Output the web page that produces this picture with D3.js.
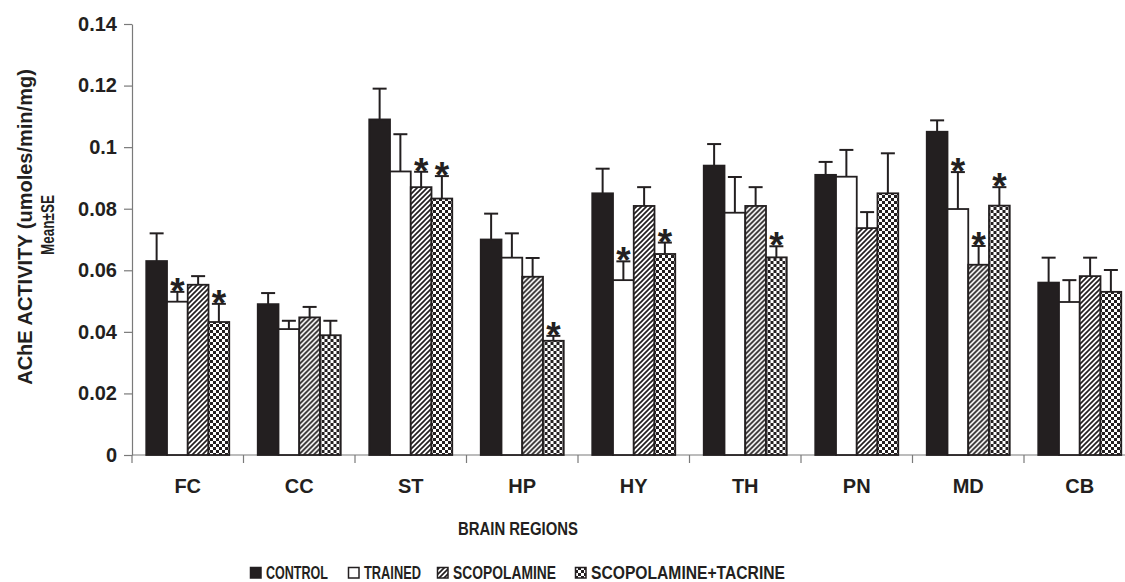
<!DOCTYPE html>
<html>
<head>
<meta charset="utf-8">
<script src="https://cdn.jsdelivr.net/npm/d3@7"></script>
<style>
  html, body { margin: 0; padding: 0; background: #fff; }
  svg { display: block; }
  text { font-family: "Liberation Sans", Arial, Helvetica, sans-serif; font-weight: bold; fill: #231f20; }
</style>
</head>
<body>
<svg id="chart" width="1125" height="582"></svg>
<script>
// ---------------- DATA ----------------
const categories = ["FC", "CC", "ST", "HP", "HY", "TH", "PN", "MD", "CB"];
const seriesNames = ["CONTROL", "TRAINED", "SCOPOLAMINE", "SCOPOLAMINE+TACRINE"];

const control    = [0.063, 0.049, 0.109, 0.070, 0.085, 0.094, 0.091, 0.105, 0.056];
const controlSE  = [0.009, 0.0036, 0.010, 0.0084, 0.008, 0.007, 0.0042, 0.0037, 0.0081];
const trained    = [0.0498, 0.0409, 0.0921, 0.0641, 0.0568, 0.0787, 0.0904, 0.0799, 0.0497];
const trainedSE  = [0.0032, 0.0027, 0.0121, 0.0079, 0.0061, 0.0116, 0.0087, 0.012, 0.0071];
const scop       = [0.0553, 0.0447, 0.087, 0.0579, 0.0809, 0.0809, 0.0737, 0.0618, 0.0581];
const scopSE     = [0.0028, 0.0034, 0.005, 0.0061, 0.0061, 0.0061, 0.0052, 0.0061, 0.006];
const tacrine    = [0.0432, 0.0389, 0.0833, 0.0371, 0.0653, 0.0642, 0.085, 0.081, 0.053];
const tacrineSE  = [0.0059, 0.0047, 0.0073, 0.0016, 0.0037, 0.0036, 0.013, 0.006, 0.0071];

// significance markers (*)
const controlSig = [0, 0, 0, 0, 0, 0, 0, 0, 0];
const trainedSig = [1, 0, 0, 0, 1, 0, 0, 1, 0];
const scopSig    = [0, 0, 1, 0, 0, 0, 0, 1, 0];
const tacrineSig = [1, 0, 1, 1, 1, 1, 0, 1, 0];

const yTickValues = [0, 0.02, 0.04, 0.06, 0.08, 0.10, 0.12, 0.14];
const yTickLabels = ["0", "0.02", "0.04", "0.06", "0.08", "0.1", "0.12", "0.14"];

const yTitle1 = "AChE ACTIVITY (umoles/min/mg)";
const yTitle2 = "Mean\u00B1SE";
const xTitle = "BRAIN REGIONS";

// ---------------- BUILD ----------------
const seriesVals = [control, trained, scop, tacrine];
const seriesSE = [controlSE, trainedSE, scopSE, tacrineSE];
const seriesSig = [controlSig, trainedSig, scopSig, tacrineSig];
const fills = ["#231f20", "#ffffff", "url(#hatch)", "url(#checker)"];

const ink = "#231f20";
const axisGrey = "#7a7a7a";

const svg = d3.select("#chart");
const plotLeft = 132, plotTop = 24, plotBottom = 455;
const bandW = 111.5;

const x0 = d3.scaleBand().domain(categories).range([plotLeft, plotLeft + bandW * categories.length]).padding(0);
const groupW = 83;
const x1 = d3.scaleBand().domain(seriesNames)
  .range([(x0.bandwidth() - groupW) / 2, (x0.bandwidth() + groupW) / 2]).padding(0);
const y = d3.scaleLinear().domain([0, 0.14]).range([plotBottom, plotTop]);

// patterns
const defs = svg.append("defs");
const hatch = defs.append("pattern").attr("id", "hatch").attr("patternUnits", "userSpaceOnUse")
  .attr("width", 5).attr("height", 5);
hatch.append("rect").attr("width", 5).attr("height", 5).attr("fill", "#fff");
hatch.append("path").attr("d", "M-1,1 L1,-1 M0,5 L5,0 M4,6 L6,4")
  .attr("stroke", ink).attr("stroke-width", 1.7);
const checker = defs.append("pattern").attr("id", "checker").attr("patternUnits", "userSpaceOnUse")
  .attr("width", 6).attr("height", 6);
checker.append("rect").attr("width", 6).attr("height", 6).attr("fill", "#fff");
checker.append("rect").attr("width", 3).attr("height", 3).attr("fill", ink);
checker.append("rect").attr("x", 3).attr("y", 3).attr("width", 3).attr("height", 3).attr("fill", ink);

// Y axis
const yAxis = d3.axisLeft(y).tickValues(yTickValues)
  .tickFormat((d, i) => yTickLabels[i]).tickSizeInner(8).tickSizeOuter(0).tickPadding(7);
const gy = svg.append("g").attr("transform", `translate(${plotLeft},0)`).call(yAxis);
gy.select(".domain").attr("stroke", axisGrey).attr("stroke-width", 1.2);
gy.selectAll(".tick line").attr("stroke", axisGrey).attr("stroke-width", 1.2);
gy.selectAll(".tick text").style("font-size", "20px").attr("fill", ink);

// X axis baseline + tick marks at band boundaries
svg.append("line").attr("x1", plotLeft).attr("x2", 1125).attr("y1", plotBottom).attr("y2", plotBottom)
  .attr("stroke", axisGrey).attr("stroke-width", 1.2);
svg.append("g").selectAll("line").data(categories).join("line")
  .attr("x1", d => x0(d)).attr("x2", d => x0(d))
  .attr("y1", plotBottom).attr("y2", plotBottom + 8)
  .attr("stroke", axisGrey).attr("stroke-width", 1.2);
svg.append("g").selectAll("text").data(categories).join("text")
  .attr("x", d => x0(d) + x0.bandwidth() / 2).attr("y", 493)
  .attr("text-anchor", "middle").style("font-size", "20px").text(d => d);

// bars
const groups = svg.append("g").selectAll("g").data(categories).join("g")
  .attr("transform", d => `translate(${x0(d)},0)`);

groups.each(function (cat, ci) {
  const g = d3.select(this);
  seriesNames.forEach((s, si) => {
    const v = seriesVals[si][ci];
    const se = seriesSE[si][ci];
    const bx = x1(s), bw = x1.bandwidth();
    const cx = bx + bw / 2;
    // error bar (upper)
    g.append("line").attr("x1", cx).attr("x2", cx).attr("y1", y(v)).attr("y2", y(v + se))
      .attr("stroke", ink).attr("stroke-width", 2);
    g.append("line").attr("x1", cx - 7).attr("x2", cx + 7).attr("y1", y(v + se)).attr("y2", y(v + se))
      .attr("stroke", ink).attr("stroke-width", 2);
    g.append("rect").attr("x", bx).attr("y", y(v)).attr("width", bw).attr("height", y(0) - y(v))
      .attr("fill", fills[si]).attr("stroke", ink).attr("stroke-width", 1.8);
    if (seriesSig[si][ci]) {
      g.append("text").attr("x", cx).attr("y", y(v + se) + 12)
        .attr("text-anchor", "middle").style("font-size", "37px").text("*");
    }
  });
});

// Y title
svg.append("text").attr("transform", "translate(32,227) rotate(-90)")
  .attr("text-anchor", "middle").style("font-size", "20px").text(yTitle1);
svg.append("text").attr("transform", "translate(54,225) rotate(-90)")
  .attr("text-anchor", "middle").style("font-size", "18px")
  .attr("textLength", 60).attr("lengthAdjust", "spacingAndGlyphs").text(yTitle2);

// X title
svg.append("text").attr("x", 518).attr("y", 535).attr("text-anchor", "middle")
  .style("font-size", "18.5px").attr("textLength", 120).attr("lengthAdjust", "spacingAndGlyphs").text(xTitle);

// legend
const legX = [250, 348, 437, 575];
const legW = [62, 57, 103, 194];
const leg = svg.append("g").selectAll("g").data(seriesNames).join("g")
  .attr("transform", (d, i) => `translate(${legX[i]},0)`);
leg.append("rect").attr("x", 0.5).attr("y", 567.5).attr("width", 10.5).attr("height", 10.5)
  .attr("fill", (d, i) => fills[i]).attr("stroke", ink).attr("stroke-width", 1.5);
leg.append("text").attr("x", 16).attr("y", 579).style("font-size", "17.5px")
  .attr("textLength", (d, i) => legW[i]).attr("lengthAdjust", "spacingAndGlyphs").text(d => d);
</script>
</body>
</html>
